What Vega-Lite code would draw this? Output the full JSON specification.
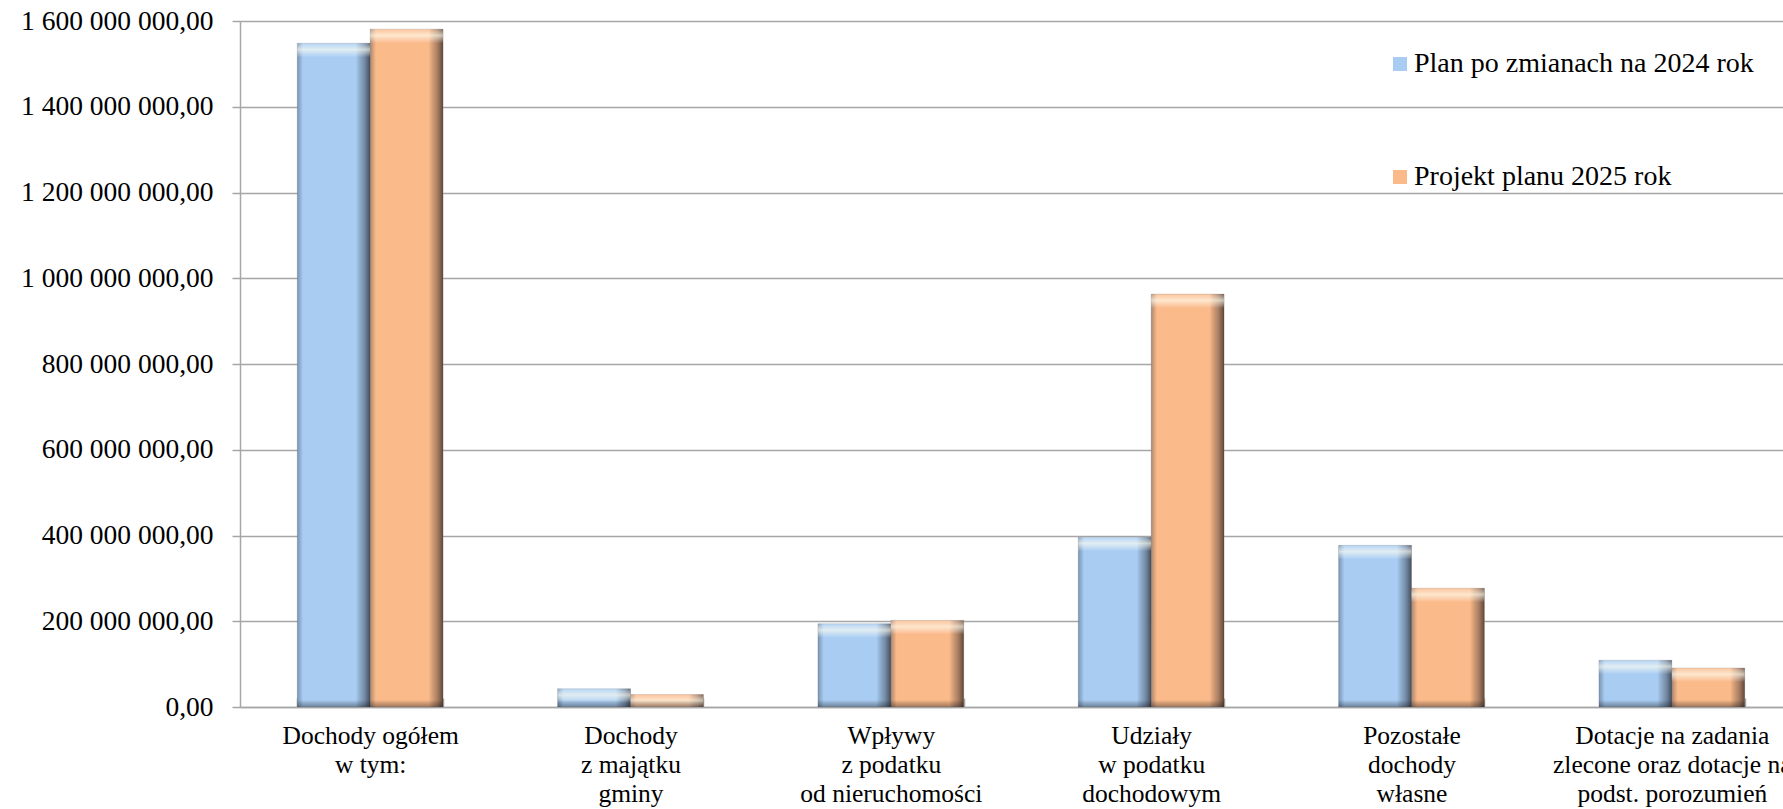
{
  "$schema": "https://vega.github.io/schema/vega-lite/v6.json",
  "autosize": "none",
  "padding": {"left": 240, "top": 21, "right": 0, "bottom": 102},
  "width": 1543,
  "height": 686,
  "background": "white",
  "config": {
    "locale": {"number": {"decimal": ",", "thousands": "\u00a0", "grouping": [3], "currency": ["", " zł"]}},
    "view": {"stroke": null},
    "font": "Liberation Serif"
  },
  "data": {
    "values": [
      {"kategoria": "Dochody ogółem|w tym:", "seria": "Plan po zmianach na 2024 rok", "kwota": 1548000000},
      {"kategoria": "Dochody ogółem|w tym:", "seria": "Projekt planu 2025 rok", "kwota": 1581000000},
      {"kategoria": "Dochody|z majątku|gminy", "seria": "Plan po zmianach na 2024 rok", "kwota": 42500000},
      {"kategoria": "Dochody|z majątku|gminy", "seria": "Projekt planu 2025 rok", "kwota": 29000000},
      {"kategoria": "Wpływy|z podatku|od nieruchomości", "seria": "Plan po zmianach na 2024 rok", "kwota": 194000000},
      {"kategoria": "Wpływy|z podatku|od nieruchomości", "seria": "Projekt planu 2025 rok", "kwota": 202000000},
      {"kategoria": "Udziały|w podatku|dochodowym", "seria": "Plan po zmianach na 2024 rok", "kwota": 396000000},
      {"kategoria": "Udziały|w podatku|dochodowym", "seria": "Projekt planu 2025 rok", "kwota": 963000000},
      {"kategoria": "Pozostałe|dochody|własne", "seria": "Plan po zmianach na 2024 rok", "kwota": 377000000},
      {"kategoria": "Pozostałe|dochody|własne", "seria": "Projekt planu 2025 rok", "kwota": 277000000},
      {"kategoria": "Dotacje na zadania|zlecone oraz dotacje na|podst. porozumień", "seria": "Plan po zmianach na 2024 rok", "kwota": 109000000},
      {"kategoria": "Dotacje na zadania|zlecone oraz dotacje na|podst. porozumień", "seria": "Projekt planu 2025 rok", "kwota": 91000000}
    ]
  },
  "encoding": {
    "x": {
      "field": "kategoria",
      "type": "nominal",
      "sort": null,
      "scale": {"range": [0, 1562], "paddingInner": 0.44, "paddingOuter": 0.22},
      "axis": {
        "title": null,
        "labelAngle": 0,
        "labelExpr": "split(datum.label, '|')",
        "labelFont": "Liberation Serif",
        "labelFontSize": 25.5,
        "labelLineHeight": 29,
        "labelColor": "#000000",
        "labelPadding": 25,
        "labelLimit": 0,
        "tickBand": "extent",
        "tickSize": -9,
        "tickColor": "#a6a6a6",
        "tickWidth": 1.5,
        "domainColor": "#a6a6a6",
        "domainWidth": 1.5,
        "grid": false
      }
    },
    "xOffset": {"field": "seria", "type": "nominal", "scale": {"paddingInner": 0, "paddingOuter": 0}},
    "y": {
      "field": "kwota",
      "type": "quantitative",
      "scale": {"domain": [0, 1600000000], "nice": false},
      "axis": {
        "title": null,
        "values": [0, 200000000, 400000000, 600000000, 800000000, 1000000000, 1200000000, 1400000000, 1600000000],
        "format": ",.2f",
        "labelFont": "Liberation Serif",
        "labelFontSize": 27.5,
        "labelColor": "#000000",
        "labelPadding": 19,
        "labelLimit": 0,
        "tickSize": 8,
        "tickColor": "#a6a6a6",
        "tickWidth": 1.5,
        "domainColor": "#a6a6a6",
        "domainWidth": 1.5,
        "gridColor": "#a6a6a6",
        "gridWidth": 1.5
      }
    }
  },
  "layer": [
    {
      "mark": {"type": "bar", "stroke": "#7f7f7f", "strokeWidth": 0.5, "strokeOpacity": 0.5},
      "encoding": {
        "color": {
          "field": "seria",
          "type": "nominal",
          "scale": {"domain": ["Plan po zmianach na 2024 rok", "Projekt planu 2025 rok"], "range": ["#a9cdf2", "#fbba8a"]},
          "legend": {
            "title": null,
            "orient": "none",
            "legendX": 1146,
            "legendY": 29,
            "direction": "vertical",
            "symbolType": "square",
            "symbolSize": 196,
            "symbolStrokeWidth": 0,
            "symbolOpacity": 1,
            "labelFont": "Liberation Serif",
            "labelFontSize": 28,
            "labelColor": "#000000",
            "labelOffset": 0,
            "labelLimit": 1000,
            "rowPadding": 85
          }
        }
      }
    },
    {
      "mark": {
        "type": "bar",
        "color": {
          "gradient": "linear", "x1": 0, "y1": 0, "x2": 1, "y2": 0,
          "stops": [
            {"offset": 0, "color": "rgba(30,40,60,0.35)"},
            {"offset": 0.08, "color": "rgba(30,40,60,0.0)"},
            {"offset": 0.8, "color": "rgba(0,0,0,0.0)"},
            {"offset": 0.92, "color": "rgba(20,20,30,0.35)"},
            {"offset": 1, "color": "rgba(15,10,10,0.65)"}
          ]
        }
      }
    },
    {
      "mark": {
        "type": "tick",
        "orient": "horizontal",
        "thickness": 14,
        "bandSize": 72,
        "yOffset": 7,
        "opacity": 1,
        "color": {
          "gradient": "linear", "x1": 0, "y1": 0, "x2": 0, "y2": 1,
          "stops": [
            {"offset": 0, "color": "rgba(255,255,255,0.15)"},
            {"offset": 0.45, "color": "rgba(255,255,240,0.65)"},
            {"offset": 1, "color": "rgba(255,255,255,0.0)"}
          ]
        }
      }
    },
    {
      "mark": {
        "type": "tick",
        "orient": "horizontal",
        "thickness": 7,
        "bandSize": 72,
        "yOffset": -3.5,
        "opacity": 1,
        "color": {
          "gradient": "linear", "x1": 0, "y1": 0, "x2": 0, "y2": 1,
          "stops": [
            {"offset": 0, "color": "rgba(0,0,0,0.0)"},
            {"offset": 1, "color": "rgba(20,20,30,0.4)"}
          ]
        }
      },
      "encoding": {"y": {"datum": 0, "type": "quantitative"}}
    }
  ]
}
